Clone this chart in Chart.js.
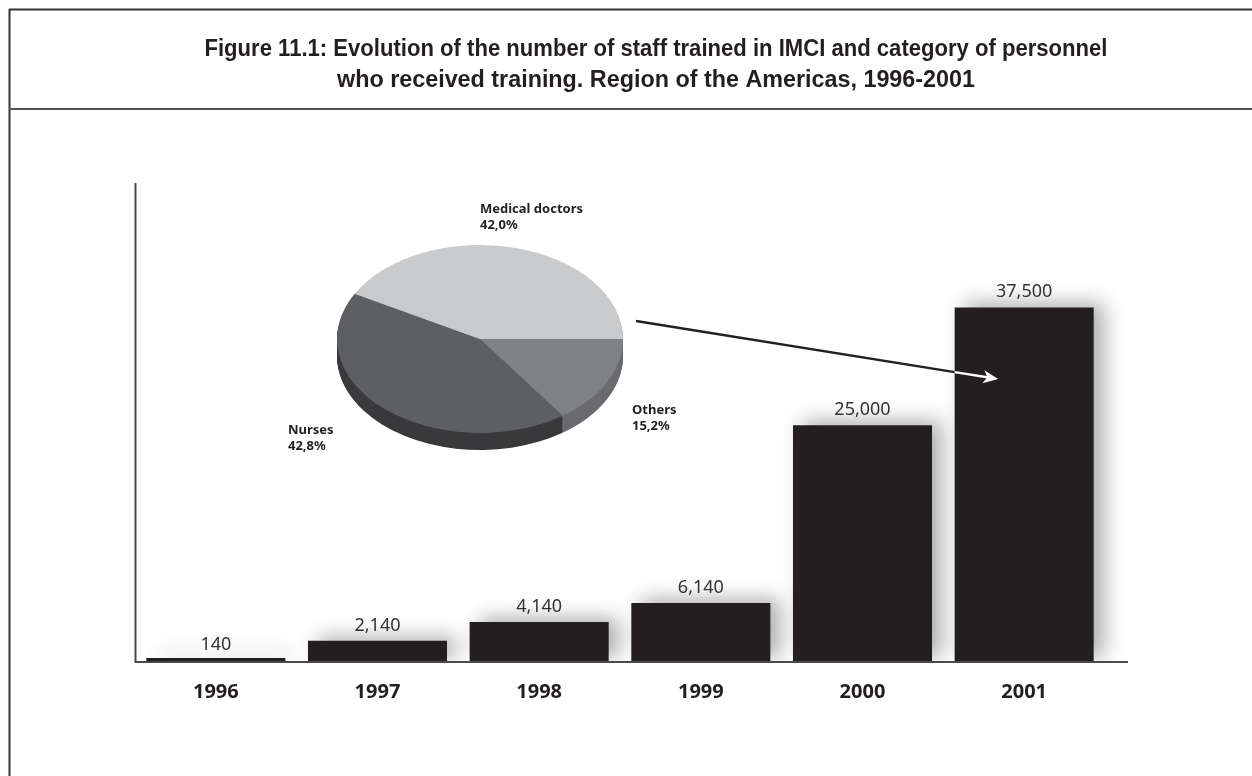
<!DOCTYPE html>
<html>
<head>
<meta charset="utf-8">
<script src="https://cdn.jsdelivr.net/npm/chart.js@4.4.1/dist/chart.umd.min.js"></script>
<style>
  html, body { margin: 0; padding: 0; background: #fff; }
  #wrap { position: relative; width: 1252px; height: 776px; }
  #wrap canvas { position: absolute; left: 0; top: 0; }
  #pie { pointer-events: none; }
</style>
</head>
<body>
<div id="wrap">
  <canvas id="bars" width="1252" height="776"></canvas>
  <canvas id="pie" width="1252" height="776"></canvas>
</div>
<script>
// données du graphique
const years = ['1996', '1997', '1998', '1999', '2000', '2001'];
const trained = [140, 2140, 4140, 6140, 25000, 37500];
const staffLabels = ['Others', 'Nurses', 'Medical doctors'];
const staffShares = [15.2, 42.8, 42.0];
const staffShareText = ['15,2%', '42,8%', '42,0%'];
const titleLines = [
  'Figure 11.1: Evolution of the number of staff trained in IMCI and category of personnel',
  'who received training. Region of the Americas, 1996-2001'
];

const INK = '#231f20';
const SANS = '"Noto Sans", "Open Sans", sans-serif';

// cadre + titre
const framePlugin = {
  id: 'frame',
  beforeDraw(chart) {
    const ctx = chart.ctx;
    ctx.save();
    ctx.fillStyle = '#fff';
    ctx.fillRect(0, 0, chart.width, chart.height);
    ctx.strokeStyle = '#333';
    ctx.lineWidth = 2;
    ctx.beginPath();
    ctx.moveTo(9, 9.5); ctx.lineTo(chart.width, 9.5);
    ctx.moveTo(9.5, 9); ctx.lineTo(9.5, chart.height);
    ctx.stroke();
    ctx.strokeStyle = '#555';
    ctx.beginPath();
    ctx.moveTo(9, 109); ctx.lineTo(chart.width, 109);
    ctx.stroke();

    // titre en police étroite, ajusté à la largeur du modèle
    ctx.fillStyle = INK;
    ctx.textAlign = 'center';
    ctx.textBaseline = 'alphabetic';
    ctx.font = 'bold 23px "Liberation Sans Narrow", "Liberation Sans", Arial, sans-serif';
    const widths = [903, 638];
    const bases = [56, 87];
    titleLines.forEach((line, i) => {
      const w = ctx.measureText(line).width;
      ctx.save();
      ctx.translate(656, bases[i]);
      ctx.scale(widths[i] / w, 1);
      ctx.fillText(line, 0, 0);
      ctx.restore();
    });
    ctx.restore();
  }
};

// ombre portée des barres
const shadowPlugin = {
  id: 'barShadow',
  beforeDatasetsDraw(chart) {
    const ctx = chart.ctx;
    ctx.save();
    ctx.shadowColor = 'rgba(0,0,0,0.33)';
    ctx.shadowBlur = 20;
    ctx.shadowOffsetX = 10;
    ctx.shadowOffsetY = -4;
  },
  afterDatasetsDraw(chart) {
    chart.ctx.restore();
  }
};

// axes, valeurs au-dessus des barres, flèche
const overlayPlugin = {
  id: 'overlay',
  afterDraw(chart) {
    const ctx = chart.ctx;
    const area = chart.chartArea;
    const yScale = chart.scales.y;
    const meta = chart.getDatasetMeta(0);
    ctx.save();

    // axes
    ctx.strokeStyle = '#4a4a4a';
    ctx.lineWidth = 2;
    ctx.beginPath();
    ctx.moveTo(area.left + 0.5, 183);
    ctx.lineTo(area.left + 0.5, area.bottom + 1);
    ctx.lineTo(1128, area.bottom + 1);
    ctx.stroke();

    // valeurs
    ctx.fillStyle = '#333';
    ctx.font = '18px ' + SANS;
    ctx.textAlign = 'center';
    ctx.textBaseline = 'alphabetic';
    meta.data.forEach((bar, i) => {
      const y = yScale.getPixelForValue(trained[i]);
      ctx.fillText(trained[i].toLocaleString('en-US'), bar.x, y - 10);
    });

    // flèche du camembert vers la barre 2001
    const last = meta.data[meta.data.length - 1];
    const sx = 636, sy = 321;
    const tx = last.x - 26, ty = yScale.getPixelForValue(29900);
    const left = last.x - last.width / 2;
    const t = (left - sx) / (tx - sx);
    const ix = left, iy = sy + t * (ty - sy);
    ctx.lineCap = 'butt';
    ctx.lineWidth = 2.5;
    ctx.strokeStyle = INK;
    ctx.beginPath(); ctx.moveTo(sx, sy); ctx.lineTo(ix, iy); ctx.stroke();
    const a = Math.atan2(ty - sy, tx - sx);
    const ca = Math.cos(a), sa = Math.sin(a);
    ctx.strokeStyle = '#fff';
    ctx.beginPath(); ctx.moveTo(ix, iy); ctx.lineTo(tx - 8 * ca, ty - 8 * sa); ctx.stroke();
    ctx.fillStyle = '#fff';
    const L = 15, W = 6.5, N = 11;
    ctx.beginPath();
    ctx.moveTo(tx, ty);
    ctx.lineTo(tx - L * ca - W * sa, ty - L * sa + W * ca);
    ctx.lineTo(tx - N * ca, ty - N * sa);
    ctx.lineTo(tx - L * ca + W * sa, ty - L * sa - W * ca);
    ctx.closePath();
    ctx.fill();
    ctx.restore();
  }
};

new Chart(document.getElementById('bars'), {
  type: 'bar',
  data: {
    labels: years,
    datasets: [{
      data: trained,
      backgroundColor: INK,
      borderWidth: 0,
      minBarLength: 3,
      categoryPercentage: 1,
      barPercentage: 0.86,
      clip: { left: 20, top: 60, right: 40, bottom: 0 }
    }]
  },
  options: {
    responsive: false,
    animation: false,
    events: [],
    layout: { padding: { left: 135, right: 147, top: 183, bottom: 53 } },
    scales: {
      x: {
        grid: { display: false, drawTicks: false },
        border: { display: false },
        ticks: { color: INK, padding: 19, font: { family: SANS, size: 20, weight: 'bold' } }
      },
      y: { display: false, min: 0, max: 50700 }
    },
    plugins: { legend: { display: false }, tooltip: { enabled: false } }
  },
  plugins: [framePlugin, shadowPlugin, overlayPlugin]
});

// camembert incliné avec épaisseur
const PIE_CY = 339;
const TILT = 94 / 143;
const DEPTH = 17 / TILT;
const topColors = ['#808185', '#5e5f63', '#c9cacc'];
const sideColors = ['#6a6b6f', '#3a3a3c', '#a6a7a9'];

const tiltPlugin = {
  id: 'tilt',
  beforeDatasetsDraw(chart) {
    const ctx = chart.ctx;
    ctx.save();
    ctx.translate(0, PIE_CY);
    ctx.scale(1, TILT);
    ctx.translate(0, -PIE_CY);
    const arcs = chart.getDatasetMeta(0).data;
    [2, 0, 1].forEach(i => {
      const arc = arcs[i];
      ctx.fillStyle = sideColors[i];
      for (let d = DEPTH; d >= 1; d -= 1) {
        ctx.beginPath();
        ctx.moveTo(arc.x, arc.y + d);
        ctx.arc(arc.x, arc.y + d, arc.outerRadius, arc.startAngle, arc.endAngle);
        ctx.closePath();
        ctx.fill();
      }
    });
  },
  afterDatasetsDraw(chart) {
    chart.ctx.restore();
  },
  afterDraw(chart) {
    const ctx = chart.ctx;
    ctx.save();
    ctx.fillStyle = INK;
    ctx.font = 'bold 13px ' + SANS;
    ctx.textAlign = 'left';
    ctx.textBaseline = 'alphabetic';
    const pos = [[632, 414], [288, 434], [480, 213]];
    pos.forEach((p, i) => {
      ctx.fillText(staffLabels[i], p[0], p[1]);
      ctx.fillText(staffShareText[i], p[0], p[1] + 16);
    });
    ctx.restore();
  }
};

new Chart(document.getElementById('pie'), {
  type: 'pie',
  data: {
    labels: staffLabels,
    datasets: [{
      data: staffShares,
      backgroundColor: topColors,
      borderWidth: 0,
      hoverOffset: 0,
      offset: 0,
      clip: false
    }]
  },
  options: {
    responsive: false,
    animation: false,
    events: [],
    rotation: 90,
    layout: { padding: { left: 337, right: 629, top: 196, bottom: 294 } },
    plugins: { legend: { display: false }, tooltip: { enabled: false } }
  },
  plugins: [tiltPlugin]
});
</script>
</body>
</html>
